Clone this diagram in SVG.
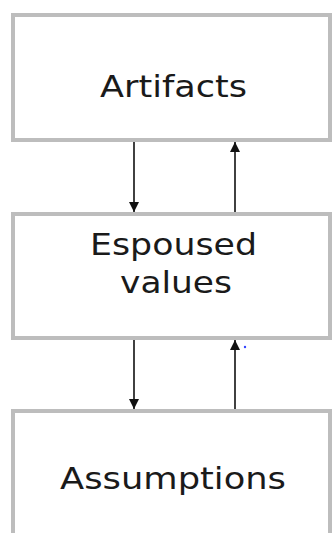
<svg xmlns="http://www.w3.org/2000/svg" width="333" height="533" viewBox="0 0 333 533">
<style>
.box{fill:#ffffff;stroke:#bdbdbd;stroke-width:4}
.lbl{font-family:"DejaVu Sans",Verdana,sans-serif;font-size:31px;fill:#1a1a1a;text-anchor:middle}
.c{stroke:#111;stroke-width:1.6;fill:none;marker-end:url(#ah)}
</style>
<defs>
<marker id="ah" markerUnits="userSpaceOnUse" markerWidth="10" markerHeight="12" refX="10" refY="5" orient="auto" viewBox="0 0 10 10">
<path d="M0,0 L10,5 L0,10 Z" fill="#111"/>
</marker>
</defs>
<rect width="333" height="533" fill="#ffffff"/>
<g id="artifacts">
<rect class="box" x="13" y="15" width="317" height="125"/>
<text class="lbl" x="173.5" y="97" textLength="147" lengthAdjust="spacingAndGlyphs">Artifacts</text>
</g>
<g id="espoused">
<rect class="box" x="13" y="214" width="317" height="124"/>
<text class="lbl" x="173.5" y="255" textLength="167" lengthAdjust="spacingAndGlyphs">Espoused</text>
<text class="lbl" x="176" y="293" textLength="112" lengthAdjust="spacingAndGlyphs">values</text>
</g>
<g id="assumptions">
<rect class="box" x="13" y="411" width="317" height="140"/>
<text class="lbl" x="173" y="489" textLength="226" lengthAdjust="spacingAndGlyphs">Assumptions</text>
</g>
<g id="connectors">
<line class="c" x1="134" y1="142" x2="134" y2="212"/>
<line class="c" x1="235" y1="212" x2="235" y2="142"/>
<line class="c" x1="134" y1="340" x2="134" y2="409"/>
<line class="c" x1="235" y1="409" x2="235" y2="340"/>
</g>
<circle cx="245" cy="347" r="1.2" fill="#3344ff"/>
</svg>
